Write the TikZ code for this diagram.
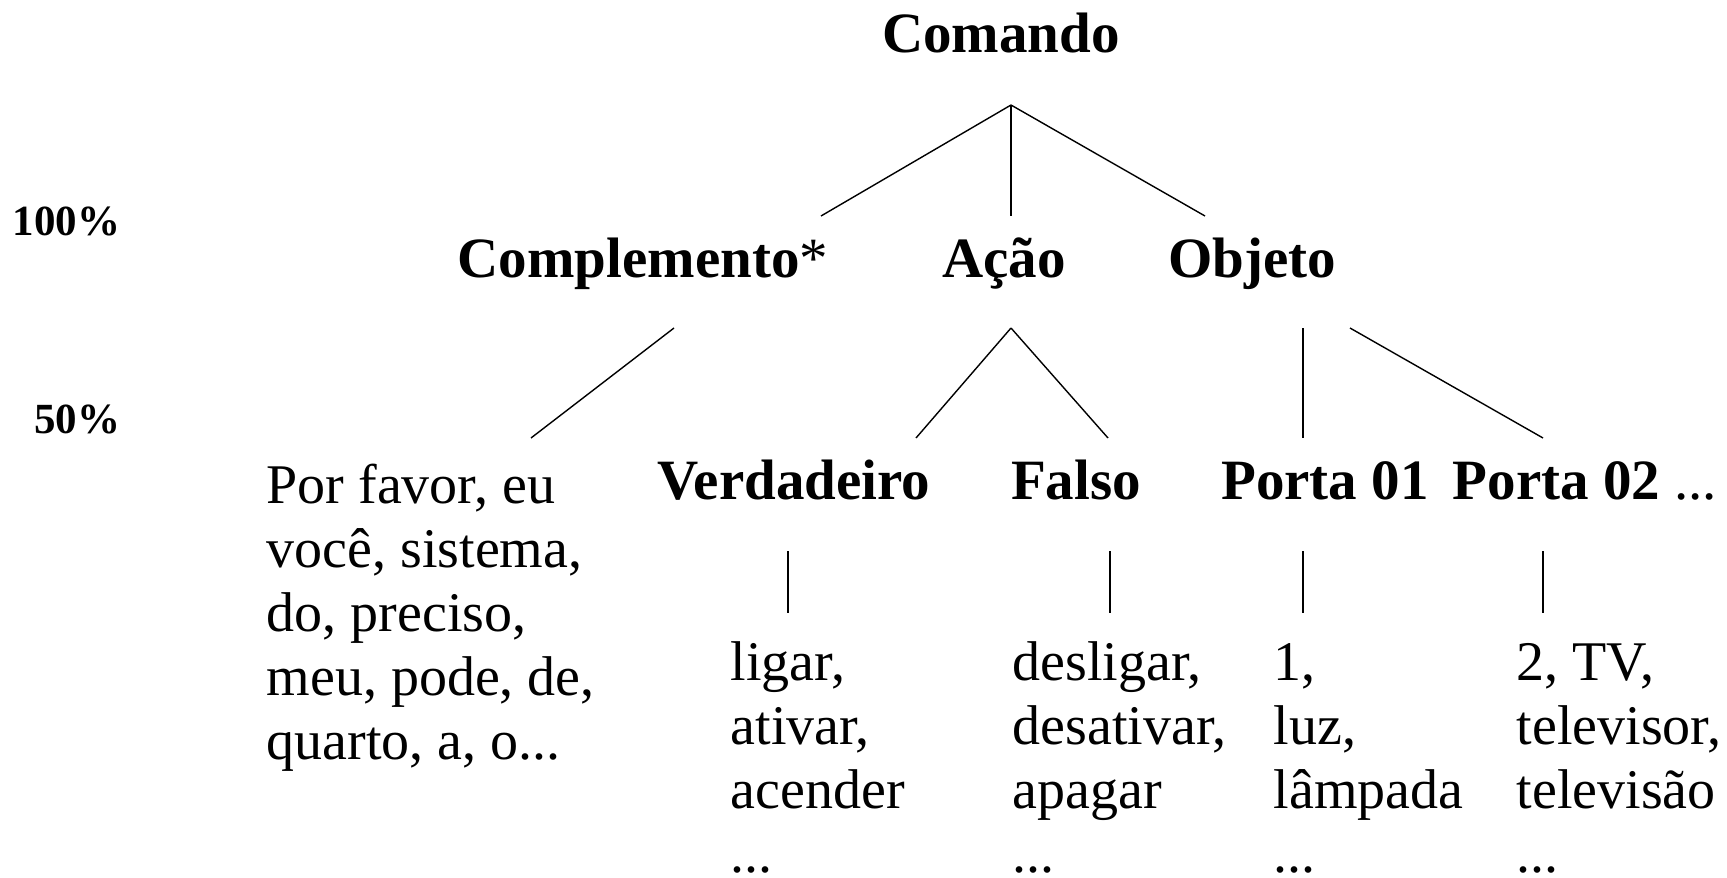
\documentclass[tikz,border=0pt]{standalone}
\usepackage{fontspec}
\setmainfont{Liberation Serif}
\begin{document}
\begin{tikzpicture}[x=1pt,y=-1pt,line width=1.4pt,
  head/.style={font=\fontsize{57}{64}\selectfont\bfseries, inner sep=0pt, anchor=base},
  leaf/.style={font=\fontsize{56}{64}\selectfont, inner sep=0pt, align=left, anchor=base west},
  perc/.style={font=\fontsize{43}{50}\selectfont\bfseries, inner sep=0pt, anchor=base east}]
\useasboundingbox (0,0) rectangle (1727,878);

% niveis
\node[perc] (p100) at (121,235) {100\%};
\node[perc] (p50) at (121,433) {50\%};

% raiz e primeiro nivel
\node[head] (comando) at (1001,52) {Comando};
\node[head] (compl) at (643,277) {Complemento{\mdseries*}};
\node[head] (acao) at (1004,277) {Ação};
\node[head] (objeto) at (1252,277) {Objeto};

\coordinate (comando-j) at (1011,105);
\coordinate (compl-t) at (821,216);
\coordinate (acao-t) at (1011,216);
\coordinate (objeto-t) at (1205,216);
\draw (comando-j) -- (compl-t);
\draw (comando-j) -- (acao-t);
\draw (comando-j) -- (objeto-t);

% segundo nivel
\node[head] (verd) at (794,499) {Verdadeiro};
\node[head] (falso) at (1076,499) {Falso};
\node[head] (porta1) at (1325,499) {Porta 01};
\node[head] (porta2) at (1585,499) {Porta 02 {\mdseries...}};

\coordinate (compl-j) at (674,328);
\coordinate (acao-j) at (1011,328);
\coordinate (objeto-j1) at (1303,328);
\coordinate (objeto-j2) at (1350,328);
\coordinate (cfill-t) at (531,438);
\coordinate (verd-t) at (916,438);
\coordinate (falso-t) at (1108,438);
\coordinate (porta1-t) at (1303,438);
\coordinate (porta2-t) at (1543,438);
\draw (compl-j) -- (cfill-t);
\draw (acao-j) -- (verd-t);
\draw (acao-j) -- (falso-t);
\draw (objeto-j1) -- (porta1-t);
\draw (objeto-j2) -- (porta2-t);

% palavras (base = ultima linha)
\node[leaf] (cfill) at (266,759) {Por favor, eu\\você, sistema,\\do, preciso,\\meu, pode, de,\\quarto, a, o...};
\node[leaf] (vfill) at (730,872) {ligar,\\ativar,\\acender\\...};
\node[leaf] (ffill) at (1012,872) {desligar,\\desativar,\\apagar\\...};
\node[leaf] (p1fill) at (1273,872) {1,\\luz,\\lâmpada\\...};
\node[leaf] (p2fill) at (1516,872) {2, TV,\\televisor,\\televisão\\...};

\coordinate (verd-j) at (788,551);
\coordinate (falso-j) at (1110,551);
\coordinate (porta1-j) at (1303,551);
\coordinate (porta2-j) at (1543,551);
\coordinate (vfill-t) at (788,613);
\coordinate (ffill-t) at (1110,613);
\coordinate (p1fill-t) at (1303,613);
\coordinate (p2fill-t) at (1543,613);
\draw (verd-j) -- (vfill-t);
\draw (falso-j) -- (ffill-t);
\draw (porta1-j) -- (p1fill-t);
\draw (porta2-j) -- (p2fill-t);
\end{tikzpicture}
\end{document}
